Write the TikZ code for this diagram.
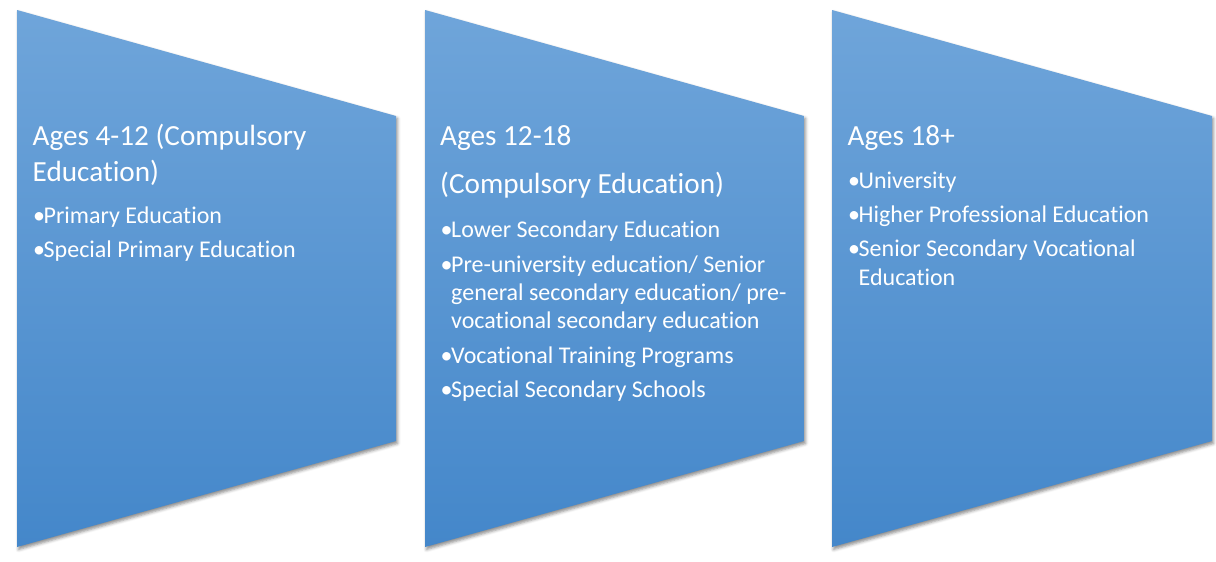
\documentclass[tikz,border=0pt]{standalone}
\usepackage{fontspec}
\setmainfont{Carlito}[RawFeature={-liga;-clig;-dlig}]
\usetikzlibrary{shadows.blur}
\definecolor{topblue}{HTML}{6FA5DA}
\definecolor{botblue}{HTML}{4487CA}
\begin{document}
\begin{tikzpicture}[x=1pt,y=-1pt,
  panel/.style={top color=topblue,bottom color=botblue,
    blur shadow={shadow xshift=1.5pt,shadow yshift=-2.5pt,shadow blur radius=3pt,shadow opacity=45}},
  ttl/.style={font=\fontsize{29.2}{35}\selectfont,text=white,anchor=base west,inner sep=0pt},
  itm/.style={font=\fontsize{24}{29}\selectfont,text=white,anchor=base west,inner sep=0pt},
  bul/.style={itm}]
\useasboundingbox (0,0) rectangle (1216,562);
% panels
\path[panel] (17,10) -- (396,116) -- (396,441) -- (17,547) -- cycle;
\path[panel] (425,10) -- (804,116) -- (804,441) -- (425,547) -- cycle;
\path[panel] (832,10) -- (1212,116) -- (1212,441) -- (832,547) -- cycle;
% panel 1
\node[ttl] (t1a) at (32.5,145) {Ages 4-12 (Compulsory};
\node[ttl] (t1b) at (32.5,181) {Education)};
\node[bul] (u1a) at (33,223) {•};
\node[itm] (i1a) at (43.5,223) {Primary Education};
\node[bul] (u1b) at (33,257) {•};
\node[itm] (i1b) at (43.5,257) {Special Primary Education};
% panel 2
\node[ttl] (t2a) at (440,145) {Ages 12-18};
\node[ttl] (t2b) at (440,193) {(Compulsory Education)};
\node[bul] (u2a) at (440.5,237) {•};
\node[itm] (i2a) at (451,237) {Lower Secondary Education};
\node[bul] (u2b) at (440.5,272) {•};
\node[itm] (i2b) at (451,272) {Pre-university education/ Senior};
\node[itm] (i2c) at (451,300) {general secondary education/ pre-};
\node[itm] (i2d) at (451,328) {vocational secondary education};
\node[bul] (u2c) at (440.5,363) {•};
\node[itm] (i2e) at (451,363) {Vocational Training Programs};
\node[bul] (u2d) at (440.5,397) {•};
\node[itm] (i2f) at (451,397) {Special Secondary Schools};
% panel 3
\node[ttl] (t3a) at (847.5,145) {Ages 18+};
\node[bul] (u3a) at (848,188) {•};
\node[itm] (i3a) at (858.5,188) {University};
\node[bul] (u3b) at (848,222) {•};
\node[itm] (i3b) at (858.5,222) {Higher Professional Education};
\node[bul] (u3c) at (848,256) {•};
\node[itm] (i3c) at (858.5,256) {Senior Secondary Vocational};
\node[itm] (i3d) at (858.5,285) {Education};
\end{tikzpicture}
\end{document}
